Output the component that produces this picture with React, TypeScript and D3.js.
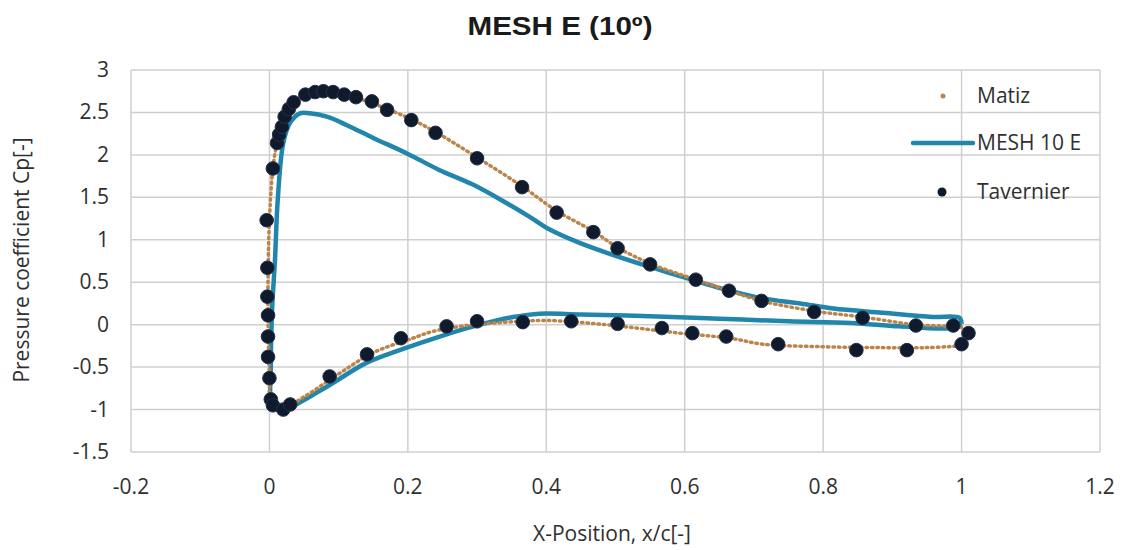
import * as d3 from 'd3';

// x/c and Cp, in drawing order (TE upper -> LE -> TE lower)
const meshX = [1.0, 0.997, 0.958, 0.886, 0.815, 0.767, 0.713, 0.647, 0.598, 0.55, 0.497, 0.449, 0.405, 0.376, 0.343, 0.294, 0.246, 0.198, 0.15, 0.112, 0.083, 0.058, 0.044, 0.03, 0.02, 0.012, 0.008, 0.004, 0.002, 0.003, 0.01, 0.03, 0.087, 0.14, 0.188, 0.246, 0.304, 0.352, 0.39, 0.45, 0.55, 0.65, 0.75, 0.84, 0.91, 0.983, 1.0];
const meshCp = [0.01, 0.08, 0.09, 0.14, 0.19, 0.25, 0.31, 0.44, 0.56, 0.68, 0.82, 0.96, 1.12, 1.27, 1.43, 1.65, 1.82, 2.02, 2.2, 2.35, 2.45, 2.49, 2.49, 2.38, 2.14, 1.47, 0.76, 0.2, -0.5, -0.95, -1.0, -0.97, -0.71, -0.45, -0.3, -0.14, 0.0, 0.09, 0.13, 0.12, 0.1, 0.07, 0.04, 0.02, -0.02, -0.04, 0.01];

const matizX = [1.0, 0.99, 0.934, 0.857, 0.787, 0.711, 0.664, 0.616, 0.55, 0.503, 0.468, 0.415, 0.365, 0.3, 0.24, 0.205, 0.17, 0.13, 0.09, 0.07, 0.05, 0.035, 0.022, 0.011, 0.005, 0.0, -0.002, -0.002, 0.0, 0.003, 0.015, 0.05, 0.1, 0.15, 0.207, 0.236, 0.285, 0.343, 0.4, 0.473, 0.52, 0.593, 0.666, 0.713, 0.8, 0.88, 0.95, 1.0];
const matizCp = [-0.03, -0.02, 0.0, 0.09, 0.16, 0.28, 0.4, 0.53, 0.72, 0.91, 1.1, 1.34, 1.63, 1.97, 2.27, 2.42, 2.54, 2.66, 2.74, 2.75, 2.71, 2.62, 2.45, 2.14, 1.84, 1.23, 0.6, 0.0, -0.6, -0.95, -1.0, -0.85, -0.58, -0.33, -0.16, -0.08, -0.01, 0.03, 0.05, 0.01, -0.03, -0.1, -0.16, -0.23, -0.26, -0.27, -0.27, -0.25];

const tavX = [-0.004, 0.005, 0.011, 0.014, 0.018, 0.022, 0.028, 0.035, 0.052, 0.066, 0.078, 0.092, 0.108, 0.125, 0.148, 0.17, 0.205, 0.24, 0.3, 0.365, 0.415, 0.468, 0.503, 0.55, 0.616, 0.664, 0.711, 0.787, 0.857, 0.934, 0.988, 1.01,
  -0.003, -0.003, -0.002, -0.002, -0.002, 0.0, 0.002, 0.005, 0.02, 0.03, 0.087, 0.141, 0.19, 0.256, 0.3, 0.366, 0.436, 0.503, 0.567, 0.611, 0.66, 0.735, 0.848, 0.921, 1.0];
const tavCp = [1.23, 1.84, 2.14, 2.24, 2.33, 2.45, 2.54, 2.62, 2.71, 2.74, 2.75, 2.74, 2.71, 2.68, 2.63, 2.53, 2.41, 2.26, 1.96, 1.62, 1.32, 1.09, 0.9, 0.71, 0.53, 0.4, 0.28, 0.15, 0.08, -0.01, -0.01, -0.1,
  0.67, 0.33, 0.11, -0.14, -0.38, -0.63, -0.88, -0.95, -1.0, -0.94, -0.61, -0.35, -0.16, -0.02, 0.04, 0.03, 0.04, 0.01, -0.04, -0.1, -0.14, -0.23, -0.3, -0.3, -0.23];

const xTicks = [-0.2, 0, 0.2, 0.4, 0.6, 0.8, 1, 1.2];
const yTicks = [-1.5, -1, -0.5, 0, 0.5, 1, 1.5, 2, 2.5, 3];

const width = 1125;
const height = 550;
const margin = { top: 70, right: 25, bottom: 98, left: 131 };

const font = "'Open Sans', 'Liberation Sans', sans-serif";
const textColor = '#303030';
const meshColor = '#2186ab';
const matizColor = '#bd8449';
const tavColor = '#101a2d';

export default function App() {
  const x = d3.scaleLinear().domain([-0.2, 1.2]).range([margin.left, width - margin.right]);
  const y = d3.scaleLinear().domain([-1.5, 3]).range([height - margin.bottom, margin.top]);

  const toPts = (xs: number[], ys: number[]) => xs.map((v, i) => [v, ys[i]] as [number, number]);
  const line = d3.line<[number, number]>().x(d => x(d[0])).y(d => y(d[1])).curve(d3.curveCatmullRom.alpha(0.5));

  const meshPath = line(toPts(meshX, meshCp)) || '';
  const matizPath = line(toPts(matizX, matizCp)) || '';
  const tav = toPts(tavX, tavCp);

  return (
    <svg width={width} height={height} style={{ position: 'absolute', left: 0, top: 0, background: '#fff' }}>
      <text x={560} y={35} textAnchor="middle" fontFamily="'Liberation Sans', Arial, sans-serif" fontWeight="bold" fontSize={25}
        textLength={185} lengthAdjust="spacingAndGlyphs" fill="#1a1a1a">MESH E (10º)</text>

      {/* grid */}
      {xTicks.map(t => (
        <line key={'gx' + t} x1={x(t)} x2={x(t)} y1={y(3)} y2={y(-1.5)} stroke="#cfcfcf" strokeWidth={1.5} />
      ))}
      {yTicks.map(t => (
        <line key={'gy' + t} x1={x(-0.2)} x2={x(1.2)} y1={y(t)} y2={y(t)} stroke="#cfcfcf" strokeWidth={1.5} />
      ))}

      {/* tick labels */}
      {xTicks.map(t => (
        <text key={'tx' + t} x={x(t)} y={y(-1.5) + 42} textAnchor="middle" fontFamily={font} fontSize={21} fill={textColor}>{t}</text>
      ))}
      {yTicks.map(t => (
        <text key={'ty' + t} x={x(-0.2) - 22} y={y(t) + 7} textAnchor="end" fontFamily={font} fontSize={21} fill={textColor}>{t}</text>
      ))}

      <text x={612} y={541} textAnchor="middle" fontFamily={font} fontSize={21} fill={textColor}>X-Position, x/c[-]</text>
      <text transform={`translate(29, ${260}) rotate(-90)`} textAnchor="middle" fontFamily={font} fontSize={21} fill={textColor}>Pressure coefficient Cp[-]</text>

      {/* series */}
      <path d={meshPath} fill="none" stroke={meshColor} strokeWidth={4.5} strokeLinejoin="round" />
      <path d={matizPath} fill="none" stroke={matizColor} strokeWidth={3.5} strokeDasharray="1.5 4" strokeLinecap="round" />
      {tav.map((d, i) => (
        <circle key={'t' + i} cx={x(d[0])} cy={y(d[1])} r={6.8} fill={tavColor} stroke="#25304a" strokeWidth={1} />
      ))}

      {/* legend */}
      <circle cx={943} cy={96} r={2.5} fill={matizColor} />
      <text x={977} y={103} fontFamily={font} fontSize={21} fill={textColor}>Matiz</text>
      <line x1={913} x2={973} y1={143} y2={143} stroke={meshColor} strokeWidth={4.5} strokeLinecap="round" />
      <text x={977} y={150} fontFamily={font} fontSize={21} fill={textColor}>MESH 10 E</text>
      <circle cx={942} cy={192} r={4.5} fill={tavColor} />
      <text x={977} y={199} fontFamily={font} fontSize={21} fill={textColor}>Tavernier</text>
    </svg>
  );
}
